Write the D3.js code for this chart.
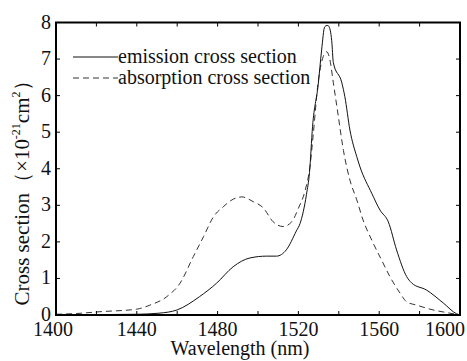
<!DOCTYPE html>
<html><head><meta charset="utf-8">
<script src="https://cdn.jsdelivr.net/npm/d3@7"></script>
<style>
body{margin:0;background:#fff;}
</style></head>
<body><svg id="c" width="467" height="361"></svg>
<script>
const emissionX = [1400,1420,1440,1451,1460,1471,1479.5,1487.7,1496,1504.3,1509.2,1514,1519,1520.8,1524,1525.5,1527,1529.8,1531.5,1533,1534.2,1535,1536.5,1537.3,1541.5,1543,1545.5,1548.9,1550.5,1556.3,1560.4,1564.5,1568.6,1573.6,1576,1583.5,1591.7,1598.4,1600];
const emissionY = [0,0.01,0.02,0.05,0.14,0.5,0.87,1.32,1.56,1.61,1.61,1.78,2.3,2.5,3.3,3.9,5.15,6.3,7.25,7.88,7.92,7.9,7.5,6.9,6.35,5.97,5.06,4.33,4.05,3.33,2.87,2.55,1.78,1.05,0.88,0.68,0.33,0.03,0];
const absorptionX = [1400,1410,1421.8,1440,1446.5,1454.8,1461.4,1468,1473,1478,1482.8,1487.8,1492,1497.6,1502.6,1507.5,1512.4,1516.7,1520,1523.3,1525.7,1527.4,1529.7,1532.3,1534,1535.6,1537.3,1539.8,1542.3,1545.5,1548.9,1552,1556.3,1561.2,1565.3,1570.3,1573.6,1578.5,1586.6,1595,1600];
const absorptionY = [0.02,0.04,0.09,0.16,0.27,0.5,0.87,1.6,2.14,2.69,2.96,3.17,3.23,3.1,2.93,2.55,2.42,2.55,2.92,3.4,4.05,4.97,6.33,7.07,7.2,6.98,6.35,5.42,4.5,3.69,3.15,2.6,2.05,1.5,1.05,0.6,0.36,0.27,0.14,0.05,0];
const xTicks = [1400,1420,1440,1460,1480,1500,1520,1540,1560,1580,1600];
const xLabels = [1400,1440,1480,1520,1560,1600];
const yTicks = [0,1,2,3,4,5,6,7,8];
const seriesNames = ["emission cross section","absorption cross section"];

const svg = d3.select("#c");
const L=56, R=460, T=22.5, B=315;
const x = d3.scaleLinear().domain([1400,1600]).range([L,R]);
const y = d3.scaleLinear().domain([0,8]).range([B,T]);

const line = d3.line().x(d=>x(d[0])).y(d=>y(d[1])).curve(d3.curveMonotoneX);
const em = emissionX.map((v,i)=>[v,emissionY[i]]);
const ab = absorptionX.map((v,i)=>[v,absorptionY[i]]);

svg.append("path").attr("d",line(ab)).attr("fill","none").attr("stroke","#333").attr("stroke-width",1).attr("stroke-dasharray","6,4");
svg.append("path").attr("d",line(em)).attr("fill","none").attr("stroke","#111").attr("stroke-width",1);

const g = svg.append("g");
const tl = 4;
xTicks.forEach(t=>{
  g.append("line").attr("x1",x(t)).attr("x2",x(t)).attr("y1",B).attr("y2",B-tl).attr("stroke","#000");
  g.append("line").attr("x1",x(t)).attr("x2",x(t)).attr("y1",T).attr("y2",T+tl).attr("stroke","#000");
});
yTicks.forEach(t=>{
  g.append("line").attr("x1",L).attr("x2",L+tl).attr("y1",y(t)).attr("y2",y(t)).attr("stroke","#000");
  g.append("line").attr("x1",R).attr("x2",R-tl).attr("y1",y(t)).attr("y2",y(t)).attr("stroke","#000");
});
svg.append("rect").attr("x",L).attr("y",T).attr("width",R-L).attr("height",B-T).attr("fill","none").attr("stroke","#000").attr("stroke-width",2);

function txt(size){ return svg.append("text").style("font-family","\"Liberation Serif\"").style("font-size",size+"px").style("fill","#111"); }

xLabels.forEach((t,i)=>{
  const tx = txt(20).attr("x",x(t)).attr("y",336).text(t);
  if(i===xLabels.length-1){ tx.attr("text-anchor","end").attr("x",465); }
  else if(i===0){ tx.attr("text-anchor","middle").attr("x",x(t)-3); }
  else tx.attr("text-anchor","middle");
});
yTicks.forEach(t=>{
  txt(20).attr("x",51).attr("y",y(t)+6).attr("text-anchor","end").text(t);
});
txt(20).attr("x",240).attr("y",355).attr("text-anchor","middle").text("Wavelength (nm)");

const yl = txt(21).attr("transform","translate(29,188) rotate(-90)").attr("text-anchor","middle");
yl.append("tspan").text("Cross section（×10");
yl.append("tspan").style("font-size","12px").attr("dy",-9).text("-21");
yl.append("tspan").attr("dy",9).text("cm");
yl.append("tspan").style("font-size","12px").attr("dy",-9).text("2");
yl.append("tspan").attr("dy",9).text("）");

const legY=[57,78];
svg.append("line").attr("x1",73).attr("x2",118).attr("y1",legY[0]).attr("y2",legY[0]).attr("stroke","#111").attr("stroke-width",1);
svg.append("line").attr("x1",73).attr("x2",118).attr("y1",legY[1]).attr("y2",legY[1]).attr("stroke","#333").attr("stroke-width",1).attr("stroke-dasharray","6,4");
seriesNames.forEach((s,i)=>{
  txt(20).attr("x",118).attr("y",legY[i]+6).text(s);
});
</script></body></html>
